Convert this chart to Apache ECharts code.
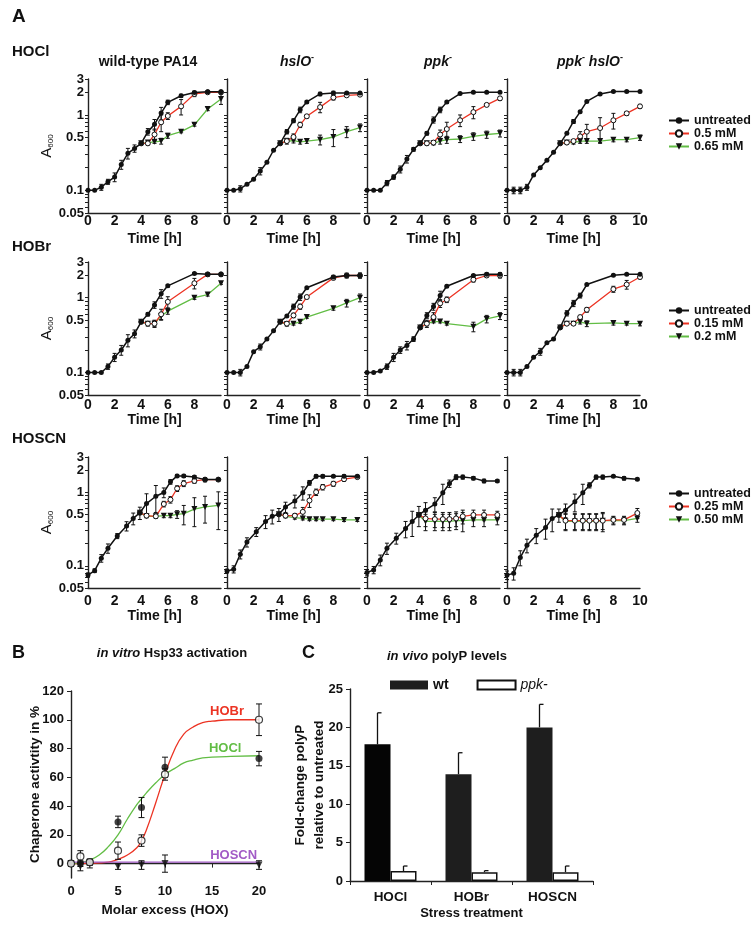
<!DOCTYPE html>
<html>
<head>
<meta charset="utf-8">
<script src="https://cdn.jsdelivr.net/npm/echarts@6/dist/echarts.min.js"></script>
<style>
body{margin:0;background:#fff}
#main{width:756px;height:929px}
</style>
</head>
<body>
<div id="main"></div>
<script>
// ---------- panel A data (A600, log scale) ----------
var tHOCl   = [0,0.5,1,1.5,2,2.5,3,3.5,4,4.5,5,5.5,6,7,8,9,10];
var tHOClTr = [4,4.5,5,5.5,6,7,8,9,10];
var tHOBr   = [0,0.5,1,1.5,2,2.5,3,3.5,4,4.5,5,5.5,6,8,9,10];
var tHOBrTr = [4,4.5,5,5.5,6,8,9,10];
var tHOSCN   = [0,0.5,1,1.5,2.2,2.9,3.4,3.9,4.4,5.1,5.7,6.2,6.7,7.2,8,8.8,9.8];
var tHOSCNTr = [3.9,4.4,5.1,5.7,6.2,6.7,7.2,8,8.8,9.8];

var strains = ['wild-type PA14','hslO-','ppk-','ppk- hslO-'];

// each list: [wild-type, hslO-, ppk-, ppk- hslO-]
var hoclUntreated = [
  [0.1,0.1,0.11,0.13,0.15,0.22,0.31,0.36,0.42,0.6,0.75,1.06,1.47,1.8,1.99,2.03,2.03],
  [0.1,0.1,0.105,0.12,0.14,0.18,0.235,0.34,0.42,0.6,0.84,1.17,1.49,1.9,1.96,1.96,1.96],
  [0.1,0.1,0.1,0.125,0.15,0.19,0.26,0.35,0.42,0.57,0.86,1.17,1.48,1.92,2.0,2.0,2.0],
  [0.1,0.1,0.1,0.11,0.16,0.2,0.25,0.32,0.42,0.57,0.82,1.1,1.51,1.9,2.05,2.05,2.05]
];
var hoclUntreatedErr = [
  [0,0,0.01,0.01,0.02,0.03,0.05,0.04,0.02,0.06,0.12,0.2,0.1,0.08,0.08,0.05,0.05],
  [0,0,0.01,0,0,0.02,0,0,0,0.04,0.05,0.1,0.05,0.1,0.1,0.05,0.05],
  [0,0,0,0.01,0.01,0.02,0.03,0.02,0.02,0.03,0.08,0.1,0.05,0.05,0.03,0.03,0.03],
  [0,0.01,0.01,0.01,0,0,0,0,0,0,0.05,0,0,0.05,0.03,0.03,0.03]
];
var hocl05 = [
  [0.42,0.42,0.55,0.8,0.97,1.3,1.9,2.0,2.0],
  [0.42,0.45,0.51,0.74,0.96,1.27,1.7,1.82,1.86],
  [0.42,0.42,0.43,0.55,0.65,0.85,1.09,1.36,1.66],
  [0.42,0.43,0.45,0.52,0.6,0.67,0.85,1.05,1.3]
];
var hocl05Err = [
  [0,0.02,0.1,0.2,0.1,0.3,0.15,0.05,0.05],
  [0,0.04,0.05,0.06,0.05,0.2,0.12,0.05,0.05],
  [0,0.02,0.02,0.08,0.15,0.15,0.2,0.06,0.1],
  [0,0.02,0.02,0.08,0.15,0.25,0.2,0.06,0.08]
];
var hocl065 = [
  [0.42,0.43,0.44,0.45,0.53,0.6,0.74,1.2,1.63],
  [0.42,0.45,0.455,0.44,0.45,0.47,0.51,0.6,0.68],
  [0.42,0.42,0.42,0.45,0.47,0.48,0.52,0.55,0.57],
  [0.42,0.43,0.43,0.45,0.45,0.45,0.47,0.47,0.5]
];
var hocl065Err = [
  [0,0.02,0.02,0.04,0.04,0.02,0.03,0.06,0.25],
  [0,0.02,0.03,0.03,0.03,0.07,0.13,0.1,0.08],
  [0,0.02,0.02,0.04,0.05,0.05,0.06,0.06,0.06],
  [0,0.02,0.02,0.03,0.03,0.02,0.03,0.03,0.04]
];

var hobrUntreated = [
  [0.1,0.1,0.1,0.12,0.16,0.2,0.27,0.33,0.475,0.6,0.8,1.13,1.44,2.1,2.05,2.05],
  [0.1,0.1,0.1,0.12,0.19,0.22,0.28,0.36,0.475,0.57,0.76,1.02,1.36,1.89,1.98,1.98],
  [0.1,0.1,0.105,0.12,0.16,0.2,0.23,0.28,0.4,0.58,0.76,1.07,1.42,1.98,2.05,2.05],
  [0.1,0.1,0.1,0.12,0.16,0.19,0.25,0.28,0.4,0.62,0.84,1.07,1.5,2.0,2.05,2.05]
];
var hobrUntreatedErr = [
  [0,0,0,0.01,0.02,0.03,0.05,0.04,0.02,0.03,0.08,0.15,0.05,0.05,0.1,0.1],
  [0,0,0.01,0,0,0.02,0,0,0,0,0.06,0.1,0,0.1,0.15,0.15],
  [0,0,0,0.01,0.02,0.02,0.03,0.02,0.02,0.05,0.08,0.15,0.05,0.05,0.1,0.1],
  [0,0.01,0.01,0,0,0.02,0,0,0,0.05,0.08,0.08,0,0.05,0.03,0.03]
];
var hobr015 = [
  [0.475,0.45,0.45,0.6,0.88,1.56,2.05,2.05],
  [0.475,0.45,0.58,0.76,1.02,1.84,1.98,1.98],
  [0.4,0.45,0.55,0.84,0.94,1.74,1.98,1.98],
  [0.4,0.45,0.45,0.55,0.69,1.3,1.5,1.89]
];
var hobr015Err = [
  [0,0.03,0.05,0.1,0.15,0.25,0.1,0.1],
  [0,0.03,0.04,0.06,0.05,0.1,0.1,0.15],
  [0,0.05,0.08,0.1,0.08,0.12,0.1,0.15],
  [0,0.02,0.02,0.03,0.05,0.12,0.2,0.1]
];
var hobr02 = [
  [0.475,0.45,0.45,0.57,0.66,1.0,1.1,1.56],
  [0.475,0.44,0.45,0.475,0.55,0.72,0.85,1.0],
  [0.4,0.45,0.48,0.48,0.45,0.41,0.52,0.57],
  [0.4,0.45,0.45,0.475,0.45,0.46,0.45,0.45]
];
var hobr02Err = [
  [0,0.03,0.04,0.06,0.06,0.05,0.05,0.05],
  [0,0.02,0.02,0.02,0.02,0.04,0.1,0.12],
  [0,0.03,0.02,0.02,0.02,0.06,0.06,0.06],
  [0,0.02,0.02,0.03,0.04,0.03,0.02,0.03]
];

var hoscnUntreated = [
  [0.075,0.086,0.127,0.173,0.254,0.347,0.44,0.525,0.7,0.88,0.99,1.38,1.66,1.66,1.6,1.48,1.48],
  [0.085,0.09,0.144,0.21,0.29,0.4,0.47,0.5,0.63,0.76,0.98,1.34,1.64,1.64,1.64,1.64,1.64],
  [0.081,0.088,0.12,0.173,0.237,0.32,0.4,0.49,0.57,0.69,0.98,1.31,1.6,1.6,1.55,1.42,1.42],
  [0.075,0.079,0.13,0.19,0.26,0.33,0.44,0.49,0.57,0.74,0.98,1.24,1.6,1.6,1.64,1.54,1.5]
];
var hoscnUntreatedErr = [
  [0.005,0.005,0.015,0.025,0.02,0.05,0.08,0.1,0.25,0.35,0.15,0.1,0.08,0.08,0.08,0.08,0.05],
  [0.005,0.01,0.02,0.03,0.04,0.08,0.1,0.1,0.1,0.15,0.2,0.1,0.08,0.08,0.05,0.08,0.05],
  [0.008,0.01,0.02,0.03,0.04,0.08,0.15,0.15,0.15,0.15,0.3,0.15,0.12,0.1,0.08,0.08,0.05],
  [0.01,0.015,0.03,0.04,0.06,0.1,0.15,0.1,0.12,0.2,0.3,0.1,0.1,0.1,0.05,0.08,0.05]
];
var hoscn025 = [
  [0.525,0.48,0.47,0.69,0.79,1.12,1.31,1.42,1.48,1.48],
  [0.5,0.48,0.48,0.54,0.77,1.0,1.17,1.3,1.5,1.6],
  [0.49,0.44,0.43,0.43,0.43,0.44,0.47,0.49,0.49,0.49],
  [0.49,0.41,0.41,0.41,0.41,0.41,0.41,0.42,0.42,0.52]
];
var hoscn025Err = [
  [0,0.02,0.03,0.06,0.08,0.1,0.12,0.1,0.1,0.05],
  [0,0.03,0.03,0.08,0.15,0.1,0.1,0.1,0.1,0.05],
  [0,0.1,0.1,0.1,0.1,0.1,0.1,0.08,0.08,0.06],
  [0,0.1,0.1,0.1,0.1,0.1,0.1,0.05,0.05,0.08]
];
var hoscn050 = [
  [0.525,0.47,0.47,0.48,0.48,0.5,0.51,0.59,0.63,0.66],
  [0.5,0.47,0.45,0.44,0.43,0.43,0.43,0.43,0.42,0.42],
  [0.49,0.4,0.4,0.4,0.4,0.41,0.41,0.42,0.42,0.42],
  [0.49,0.4,0.4,0.4,0.4,0.4,0.41,0.41,0.41,0.44]
];
var hoscn050Err = [
  [0,0.02,0.02,0.03,0.03,0.06,0.15,0.25,0.25,0.35],
  [0,0.02,0.02,0.02,0.02,0.02,0.02,0.02,0.02,0.02],
  [0,0.1,0.1,0.1,0.1,0.1,0.12,0.08,0.08,0.06],
  [0,0.1,0.1,0.1,0.1,0.1,0.12,0.05,0.05,0.05]
];

var yLabelVals = [0.05,0.1,0.5,1,2,3];
var yTickVals = [0.05,0.06,0.07,0.08,0.09,0.1,0.2,0.3,0.4,0.5,0.6,0.7,0.8,0.9,1,2,3];

// ---------- panel B data ----------
var molarExcess = [0,1,2,5,7.5,10,20];
var hobrActivity = [0,5,1,9,16,62,100];
var hobrActErr   = [2,4,2,6,4,4,11];
var hoclActivity = [0,0,1,29,39,67,73];
var hoclActErr   = [1,2,2,4,7,7,5];
var hoscnActivity = [0,-2,0,-2,-1,0,-1];
var hoscnActErr   = [2,3,3,2,3,6,3];
// fitted curves
var hobrFitX = [0,2,4,5,6,7,7.5,8,9,10,11,12,13,14,15,17,20];
var hobrFitY = [0,0.2,1,3,6,11,16,23,42,62,79,90,95,98,99,100,100];
var hoclFitX = [0,1,2,3,4,5,6,7,7.5,8,9,10,11,12,13,14,15,17,20];
var hoclFitY = [0,0.8,2.5,6,12,20,31,41,45,49,56,62,66,70,72,73.5,74,74.5,75];
var hoscnFitX = [0,20];
var hoscnFitY = [1,1];

// ---------- panel C data ----------
var stressCats = ['HOCl','HOBr','HOSCN'];
var wtPolyP = [17.8,13.9,20.0];
var wtPolyPErr = [4.1,2.8,3.0];
var ppkPolyP = [1.3,1.15,1.15];
var ppkPolyPErr = [0.65,0.2,0.8];

// ---------- layout ----------
var FF = '"Liberation Sans", Arial, sans-serif';
var colLeft = [88,227,367,507];
var colWidth = 133;
var rowTop = [79,262,457];
var rowHeight = [134,133,131];
var legendTop = [114,304,487];
var BLACK = '#111', RED = '#ec3323', GREEN = '#62bd45', PURPLE = '#a25bc6';

var rows = [
  {t:tHOCl, tt:tHOClTr, u:hoclUntreated, ue:hoclUntreatedErr, lo:hocl05, loe:hocl05Err, hi:hocl065, hie:hocl065Err, names:['0.5 mM','0.65 mM']},
  {t:tHOBr, tt:tHOBrTr, u:hobrUntreated, ue:hobrUntreatedErr, lo:hobr015, loe:hobr015Err, hi:hobr02, hie:hobr02Err, names:['0.15 mM','0.2 mM']},
  {t:tHOSCN, tt:tHOSCNTr, u:hoscnUntreated, ue:hoscnUntreatedErr, lo:hoscn025, loe:hoscn025Err, hi:hoscn050, hie:hoscn050Err, names:['0.25 mM','0.50 mM']}
];

function zip3(xs, ys, es){
  return xs.map(function(x,i){ return [x, ys[i], es ? es[i] : 0]; });
}

function errBars(gi, xs, ys, es, minY, cap){
  return {
    type:'custom', xAxisIndex:gi, yAxisIndex:gi, z:3,
    data: zip3(xs, ys, es),
    encode:{x:0, y:1},
    silent:true,
    renderItem:function(params, api){
      var x = api.value(0), y = api.value(1), e = api.value(2);
      if(!e) return null;
      var lo = Math.max(y - e, minY), hi = y + e;
      var p1 = api.coord([x, hi]), p2 = api.coord([x, lo]);
      var st = {stroke:'#111', lineWidth:1};
      return {type:'group', children:[
        {type:'line', shape:{x1:p1[0],y1:p1[1],x2:p2[0],y2:p2[1]}, style:st},
        {type:'line', shape:{x1:p1[0]-cap,y1:p1[1],x2:p1[0]+cap,y2:p1[1]}, style:st},
        {type:'line', shape:{x1:p2[0]-cap,y1:p2[1],x2:p2[0]+cap,y2:p2[1]}, style:st}
      ]};
    }
  };
}

var grids = [], xAxes = [], yAxes = [], series = [], legends = [];
var axLine = {show:true, lineStyle:{color:'#222', width:1.4}};

rows.forEach(function(row, r){
  for(var c=0; c<4; c++){
    var gi = r*4 + c;
    grids.push({left:colLeft[c], top:rowTop[r], width:colWidth, height:rowHeight[r]});
    xAxes.push({
      type:'value', gridIndex:gi, min:0, max:10, interval:2,
      axisLine:axLine, axisTick:{show:false}, splitLine:{show:false},
      axisLabel:{margin:[1,3,6][r], color:'#111', fontFamily:FF, fontWeight:'bold', fontSize:14,
        formatter:(function(last){ return function(v){ return (v===10 && !last) ? '' : v; }; })(c===3)},
      name:'Time [h]', nameLocation:'middle', nameGap:[19,18,19][r],
      nameTextStyle:{color:'#111', fontFamily:FF, fontWeight:'bold', fontSize:14}
    });
    yAxes.push({
      type:'log', logBase:10, gridIndex:gi, min:0.05, max:3,
      axisLine:axLine, splitLine:{show:false}, minorTick:{show:false},
      axisTick:{show:true, length:3, customValues:yTickVals, lineStyle:{color:'#222'}},
      axisLabel:{show:c===0, customValues:yLabelVals, margin:4, color:'#111', fontFamily:FF, fontWeight:'bold', fontSize:13,
        formatter:function(v){ return String(+v.toPrecision(3)); }},
      name: c===0 ? '{a|A}{s|600}' : '', nameLocation:'middle', nameGap:31, nameRotate:90,
      nameTextStyle:{rich:{
        a:{fontFamily:FF, fontSize:15, color:'#111'},
        s:{fontFamily:FF, fontSize:8, color:'#111', padding:[6,0,0,0]}
      }}
    });
    series.push({
      name:row.names[1], type:'line', xAxisIndex:gi, yAxisIndex:gi, z:4,
      data:zip3(row.tt, row.hi[c]).map(function(d){return [d[0],d[1]];}),
      symbol:'triangle', symbolRotate:180, symbolSize:6,
      itemStyle:{color:BLACK}, lineStyle:{color:GREEN, width:1.3}
    });
    series.push({
      name:row.names[0], type:'line', xAxisIndex:gi, yAxisIndex:gi, z:4,
      data:zip3(row.tt, row.lo[c]).map(function(d){return [d[0],d[1]];}),
      symbol:'circle', symbolSize:5,
      itemStyle:{color:'#fff', borderColor:BLACK, borderWidth:1}, lineStyle:{color:RED, width:1.3}
    });
    series.push({
      name:'untreated', type:'line', xAxisIndex:gi, yAxisIndex:gi, z:5,
      data:zip3(row.t, row.u[c]).map(function(d){return [d[0],d[1]];}),
      symbol:'circle', symbolSize:5,
      itemStyle:{color:BLACK}, lineStyle:{color:BLACK, width:1.5}
    });
    series.push(errBars(gi, row.tt, row.hi[c], row.hie[c], 0.051, 2));
    series.push(errBars(gi, row.tt, row.lo[c], row.loe[c], 0.051, 2));
    series.push(errBars(gi, row.t, row.u[c], row.ue[c], 0.051, 2));
  }
  legends.push({
    data:['untreated', row.names[0], row.names[1]],
    orient:'vertical', left:668, top:legendTop[r], padding:0, itemWidth:20, itemHeight:8, itemGap:0,
    selectedMode:false,
    textStyle:{color:'#111', fontFamily:FF, fontWeight:'bold', fontSize:12.5, lineHeight:13}
  });
});

// ---------- panel B ----------
grids.push({left:71, top:691, width:188, height:187});
xAxes.push({
  type:'value', gridIndex:12, min:0, max:20, interval:5,
  axisLine:axLine, axisTick:{show:true, length:4, lineStyle:{color:'#222'}}, splitLine:{show:false},
  axisLabel:{margin:7, color:'#111', fontFamily:FF, fontWeight:'bold', fontSize:13},
  name:'Molar excess (HOX)', nameLocation:'middle', nameGap:25,
  nameTextStyle:{color:'#111', fontFamily:FF, fontWeight:'bold', fontSize:13.5}
});
yAxes.push({
  type:'value', gridIndex:12, min:-10, max:120,
  axisLine:axLine, splitLine:{show:false},
  axisTick:{show:true, length:4, customValues:[0,20,40,60,80,100,120], lineStyle:{color:'#222'}},
  axisLabel:{customValues:[0,20,40,60,80,100,120], margin:7, color:'#111', fontFamily:FF, fontWeight:'bold', fontSize:13},
  name:'Chaperone activtity in %', nameLocation:'middle', nameGap:29, nameMoveOverlap:false,
  nameTextStyle:{color:'#111', fontFamily:FF, fontWeight:'bold', fontSize:13.5}
});
function fitLine(name, xs, ys, color, label, at){
  return {
    type:'line', xAxisIndex:12, yAxisIndex:12, smooth:true, showSymbol:false, silent:true, z:2,
    data:xs.map(function(x,i){return [x, ys[i]];}),
    lineStyle:{color:color, width:1.3},
    markPoint:{symbolSize:0, silent:true,
      label:{show:true, formatter:label, color:color, fontFamily:FF, fontWeight:'bold', fontSize:13},
      data:[{coord:at}]}
  };
}
series.push(fitLine('HOBr fit', hobrFitX, hobrFitY, RED, 'HOBr', [16.6,106]));
series.push(fitLine('HOCl fit', hoclFitX, hoclFitY, GREEN, 'HOCl', [16.4,80]));
series.push(fitLine('HOSCN fit', hoscnFitX, hoscnFitY, PURPLE, 'HOSCN', [17.3,5.6]));
series.push(errBars(12, molarExcess, hoscnActivity, hoscnActErr, -10, 3));
series.push(errBars(12, molarExcess, hoclActivity, hoclActErr, -10, 3));
series.push(errBars(12, molarExcess, hobrActivity, hobrActErr, -10, 3));
series.push({type:'scatter', xAxisIndex:12, yAxisIndex:12, z:5, symbol:'triangle', symbolRotate:180, symbolSize:7,
  itemStyle:{color:BLACK}, data:molarExcess.map(function(x,i){return [x, hoscnActivity[i]];})});
series.push({type:'scatter', xAxisIndex:12, yAxisIndex:12, z:5, symbol:'circle', symbolSize:7,
  itemStyle:{color:BLACK}, data:molarExcess.map(function(x,i){return [x, hoclActivity[i]];})});
series.push({type:'scatter', xAxisIndex:12, yAxisIndex:12, z:6, symbol:'circle', symbolSize:7,
  itemStyle:{color:'#fff', borderColor:BLACK, borderWidth:1.2}, data:molarExcess.map(function(x,i){return [x, hobrActivity[i]];})});

// ---------- panel C ----------
grids.push({left:350, top:689, width:243, height:192});
xAxes.push({
  type:'category', gridIndex:13, data:stressCats,
  axisLine:axLine, axisTick:{show:true, length:4, lineStyle:{color:'#222'}},
  axisLabel:{margin:9, color:'#111', fontFamily:FF, fontWeight:'bold', fontSize:13.5},
  name:'Stress treatment', nameLocation:'middle', nameGap:26,
  nameTextStyle:{color:'#111', fontFamily:FF, fontWeight:'bold', fontSize:13}
});
yAxes.push({
  type:'value', gridIndex:13, min:0, max:25, interval:5,
  axisLine:axLine, splitLine:{show:false},
  axisTick:{show:true, length:4, lineStyle:{color:'#222'}},
  axisLabel:{margin:7, color:'#111', fontFamily:FF, fontWeight:'bold', fontSize:13},
  name:'Fold-change polyP\nrelative to untreated', nameLocation:'middle', nameGap:21, nameMoveOverlap:false,
  nameTextStyle:{color:'#111', fontFamily:FF, fontWeight:'bold', fontSize:13.5, lineHeight:19}
});
series.push({
  name:'wt', type:'bar', xAxisIndex:13, yAxisIndex:13, barWidth:26, barGap:'0%',
  itemStyle:{color:'#1e1e1e'},
  data:wtPolyP.map(function(v,i){ return i===0 ? {value:v, itemStyle:{color:'#050505'}} : v; })
});
series.push({
  name:'ppk-', type:'bar', xAxisIndex:13, yAxisIndex:13, barWidth:26,
  itemStyle:{color:'#fff', borderColor:'#111', borderWidth:1.5},
  data:ppkPolyP
});
function barErr(vals, errs, dx){
  return {
    type:'custom', xAxisIndex:13, yAxisIndex:13, z:1, silent:true,
    data:vals.map(function(v,i){ return [i, v, errs[i]]; }), encode:{x:0, y:1},
    renderItem:function(params, api){
      var p = api.coord([api.value(0), api.value(1)]);
      var q = api.coord([api.value(0), api.value(1) + api.value(2)]);
      var x = p[0] + dx, st = {stroke:'#111', lineWidth:1.3};
      return {type:'group', children:[
        {type:'line', shape:{x1:x,y1:p[1],x2:x,y2:q[1]}, style:st},
        {type:'line', shape:{x1:x,y1:q[1],x2:x+4,y2:q[1]}, style:st}
      ]};
    }
  };
}
series.push(barErr(wtPolyP, wtPolyPErr, -13));
series.push(barErr(ppkPolyP, ppkPolyPErr, 13));
legends.push({
  data:['wt','ppk-'], left:390, top:678, padding:0, itemWidth:38, itemHeight:9, itemGap:28, icon:'rect',
  selectedMode:false,
  formatter:function(n){ return n==='wt' ? '{b|wt}' : '{i|ppk-}'; },
  textStyle:{rich:{
    b:{fontFamily:FF, fontWeight:'bold', fontSize:14, color:'#111'},
    i:{fontFamily:FF, fontStyle:'italic', fontSize:14, color:'#111'}
  }}
});

// ---------- texts ----------
function txt(s, x, y, size, align, rich){
  return {type:'text', x:x, y:y, silent:true, style:{
    text:s, fontFamily:FF, fontWeight:'bold', fontSize:size, fill:'#111',
    align:align || 'left', verticalAlign:'middle', rich:rich
  }};
}
var italRich = {
  i:{fontFamily:FF, fontWeight:'bold', fontStyle:'italic', fontSize:14, fill:'#111'},
  sup:{fontFamily:FF, fontWeight:'bold', fontSize:9, fill:'#111', padding:[0,0,8,0]}
};
var graphics = [
  txt('A', 12, 17, 19),
  txt('HOCl', 12, 52, 15),
  txt('HOBr', 12, 247, 15),
  txt('HOSCN', 12, 439, 15),
  txt(strains[0], 148, 62, 14, 'center'),
  txt('{i|hslO}{sup|-}', 297, 62, 14, 'center', italRich),
  txt('{i|ppk}{sup|-}', 438, 62, 14, 'center', italRich),
  txt('{i|ppk}{sup|-}{i| hslO}{sup|-}', 590, 62, 14, 'center', italRich),
  txt('B', 12, 653, 18),
  txt('C', 302, 653, 18),
  txt('{i|in vitro} Hsp33 activation', 172, 653, 13, 'center', {i:{fontFamily:FF, fontWeight:'bold', fontStyle:'italic', fontSize:13, fill:'#111'}}),
  txt('{i|in vivo} polyP levels', 387, 656, 13, 'left', {i:{fontFamily:FF, fontWeight:'bold', fontStyle:'italic', fontSize:13, fill:'#111'}})
];

var chart = echarts.init(document.getElementById('main'));
chart.setOption({
  animation:false,
  backgroundColor:'#fff',
  grid:grids, xAxis:xAxes, yAxis:yAxes, legend:legends,
  series:series, graphic:graphics
});
</script>
</body>
</html>
